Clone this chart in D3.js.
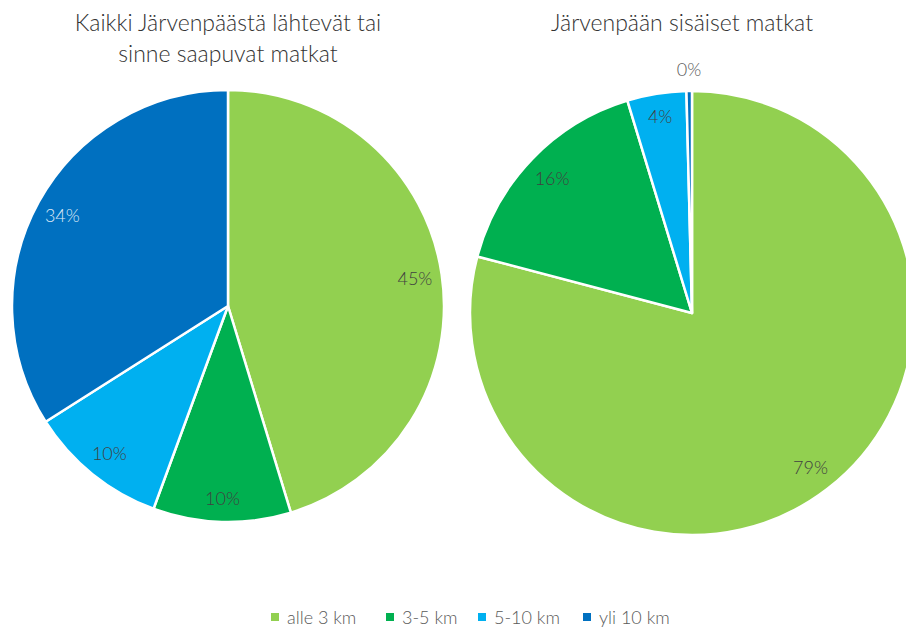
<!DOCTYPE html>
<html><head><meta charset="utf-8">
<script src="https://cdn.jsdelivr.net/npm/d3@7"></script>
<style>body{margin:0;background:#fff}svg{display:block}</style>
</head><body>
<svg id="c" width="906" height="630"></svg>
<script>
const categories = ["alle 3 km", "3-5 km", "5-10 km", "yli 10 km"];
const colors = ["#92D050", "#00B050", "#00B0F0", "#0070C0"];
const labelColors = ["#404040", "#404040", "#404040", "#DCE9F6"];
const titleLeft = ["Kaikki Järvenpäästä lähtevät tai", "sinne saapuvat matkat"];
const titleRight = ["Järvenpään sisäiset matkat"];
const valuesLeft = [45.3, 10.3, 10.4, 34.0];
const valuesRight = [79.1, 16.2, 4.3, 0.4];

// layout: label distance from centre as fraction of radius
const labelPosLeft = [0.875, 0.89, 0.875, 0.875];
const labelPosRight = [0.875, 0.875, 0.9, 1.1];

const svg = d3.select("#c");
const font = "Lato, 'Open Sans', sans-serif";

const charts = [
  {values: valuesLeft, lab: labelPosLeft, title: titleLeft, cx: 228, cy: 306, r: 216, tx: 228, ty: 31},
  {values: valuesRight, lab: labelPosRight, title: titleRight, cx: 692, cy: 313, r: 222, tx: 682, ty: 31}
];

const pie = d3.pie().sort(null).value(d => d);

charts.forEach(ch => {
  const g = svg.append("g").attr("transform", `translate(${ch.cx},${ch.cy})`);
  const arcs = pie(ch.values);
  const total = d3.sum(ch.values);
  const arc = d3.arc().innerRadius(0).outerRadius(ch.r);
  g.selectAll("path").data(arcs).join("path")
    .attr("d", arc)
    .attr("fill", (d, i) => colors[i])
    .attr("stroke", "#fff").attr("stroke-width", 2.5).attr("stroke-linejoin", "round");
  g.selectAll("text").data(arcs).join("text")
    .attr("transform", (d, i) => {
      const rr = ch.r * ch.lab[i];
      const p = d3.arc().innerRadius(rr).outerRadius(rr).centroid(d);
      return `translate(${p[0]},${p[1]})`;
    })
    .attr("text-anchor", "middle").attr("dominant-baseline", "central")
    .attr("font-family", font).attr("font-weight", 300).attr("font-size", 18)
    .attr("fill", (d, i) => (ch.lab[i] > 1 ? "#595959" : labelColors[i]))
    .text(d => Math.round(d.value / total * 100) + "%");
  const t = svg.append("text").attr("x", ch.tx).attr("y", ch.ty)
    .attr("text-anchor", "middle").attr("font-family", font).attr("font-weight", 300)
    .attr("font-size", 23).attr("fill", "#333333");
  ch.title.forEach((line, i) => {
    t.append("tspan").attr("x", ch.tx).attr("dy", i === 0 ? 0 : 31).text(line);
  });
});

// legend
const legendXs = [275, 390, 482, 587];
const lg = svg.append("g");
categories.forEach((c, i) => {
  const x = legendXs[i];
  lg.append("rect").attr("x", x - 4).attr("y", 613).attr("width", 8).attr("height", 8).attr("fill", colors[i]);
  lg.append("text").attr("x", x + 12).attr("y", 617).attr("dominant-baseline", "central")
    .attr("font-family", font).attr("font-weight", 300).attr("font-size", 18).attr("fill", "#595959").text(c);
});
</script>
</body></html>
